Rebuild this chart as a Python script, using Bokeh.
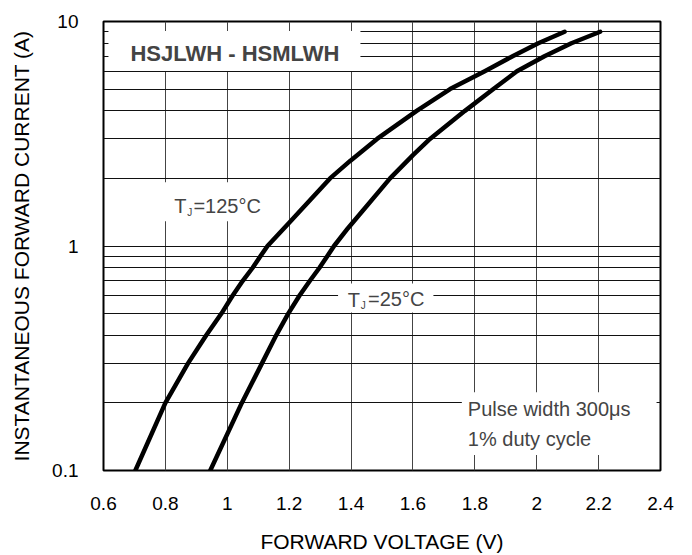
from bokeh.plotting import figure
from bokeh.models import Range1d, FixedTicker, NumeralTickFormatter, Label
from bokeh.embed import file_html
from bokeh.resources import INLINE

# Forward characteristic, Tj = 125 C
V_125 = [0.703, 0.80, 0.873, 0.932, 0.981, 1.017, 1.05, 1.082, 1.107, 1.13,
         1.20, 1.332, 1.398, 1.484, 1.612, 1.72, 1.832, 1.922, 2.005, 2.09]
I_125 = [0.1, 0.2, 0.3, 0.4, 0.5, 0.6, 0.7, 0.8, 0.9, 1.0,
         1.27, 2.0, 2.4, 3.0, 4.0, 5.0, 6.0, 7.0, 8.0, 9.0]

# Forward characteristic, Tj = 25 C
V_25 = [0.945, 1.047, 1.112, 1.158, 1.197, 1.233, 1.267, 1.298, 1.323, 1.345,
        1.39, 1.526, 1.60, 1.655, 1.768, 1.86, 1.936, 2.025, 2.112, 2.205]
I_25 = [0.1, 0.2, 0.3, 0.4, 0.5, 0.6, 0.7, 0.8, 0.9, 1.0,
        1.2, 2.0, 2.54, 3.0, 4.0, 5.0, 6.0, 7.0, 8.0, 9.0]

X_TICKS = [0.6, 0.8, 1.0, 1.2, 1.4, 1.6, 1.8, 2.0, 2.2, 2.4]
Y_TICKS = [0.1, 1, 10]
Y_GRID = [0.1, 0.2, 0.3, 0.4, 0.5, 0.6, 0.7, 0.8, 0.9,
          1, 2, 3, 4, 5, 6, 7, 8, 9, 10]

TITLE = "HSJLWH - HSMLWH"
X_LABEL = "FORWARD VOLTAGE (V)"
Y_LABEL = "INSTANTANEOUS FORWARD CURRENT (A)"
NOTE = "Pulse width 300\u03bcs\n1% duty cycle"

FONT = "Liberation Sans"

p = figure(width=690, height=555, y_axis_type="log",
           x_range=Range1d(0.6, 2.4), y_range=Range1d(0.1, 10),
           output_backend="svg", toolbar_location=None,
           min_border_left=103, min_border_right=30,
           min_border_top=21, min_border_bottom=84)

p.background_fill_color = "white"
p.border_fill_color = "white"
p.outline_line_color = "black"
p.outline_line_width = 2

p.xgrid.ticker = FixedTicker(ticks=X_TICKS)
p.ygrid.ticker = FixedTicker(ticks=Y_GRID)
p.xgrid.grid_line_color = "#444444"
p.ygrid.grid_line_color = "#111111"
p.xgrid.grid_line_width = 1
p.ygrid.grid_line_width = 1.2

p.xaxis.ticker = FixedTicker(ticks=X_TICKS)
p.yaxis.ticker = FixedTicker(ticks=Y_TICKS)
p.xaxis.formatter = NumeralTickFormatter(format="0.[0]")
p.yaxis.formatter = NumeralTickFormatter(format="0.[0]")

for ax in (p.xaxis, p.yaxis):
    ax.axis_line_color = None
    ax.major_tick_line_color = None
    ax.minor_tick_line_color = None
    ax.major_tick_out = 0
    ax.major_tick_in = 0
    ax.major_label_text_font = FONT
    ax.major_label_text_font_size = "19px"
    ax.major_label_text_color = "black"
    ax.axis_label_text_font = FONT
    ax.axis_label_text_font_size = "21px"
    ax.axis_label_text_font_style = "normal"
    ax.axis_label_text_color = "black"

p.xaxis.major_label_standoff = 26
p.yaxis.major_label_standoff = 25

p.yaxis.axis_label = Y_LABEL
p.yaxis.axis_label_standoff = 16
p.xaxis.axis_label = X_LABEL
p.xaxis.axis_label_standoff = 17

p.line(V_125, I_125, line_width=4.5, line_color="black",
       line_join="round", line_cap="round")
p.line(V_25, I_25, line_width=4.5, line_color="black",
       line_join="round", line_cap="round")


def boxed(x, y, text, size, pad, style="normal", **kw):
    l, r, t, b = pad
    p.add_layout(Label(x=x, y=y, text=text, text_font=FONT,
                       text_font_size=size, text_font_style=style,
                       text_baseline="middle", text_align="left",
                       background_fill_color="white",
                       padding=dict(left=l, right=r, top=t, bottom=b), **kw))


def plain(x, y, text, size, dx=0, dy=0):
    p.add_layout(Label(x=x, y=y, x_offset=dx, y_offset=dy, text=text,
                       text_font=FONT, text_font_size=size,
                       text_baseline="middle", text_align="left"))


# Title box (anchor = box left edge, box centre)
boxed(0.616, 7.39, TITLE, "22px", (22, 21, 10, 5), style="bold")

# Tj = 125 C
boxed(0.7774, 1.573, "=125\u00b0C", "20px", (35, 11, 13, 4))
plain(0.829, 1.505, "T", "20px")
plain(0.829, 1.505, "J", "10px", dx=13, dy=-6)

# Tj = 25 C
boxed(1.358, 0.5873, "=25\u00b0C", "20px", (30, 9, 5, 2))
plain(1.389, 0.577, "T", "20px")
plain(1.389, 0.577, "J", "10px", dx=13, dy=-6)

# Pulse note
boxed(1.758, 0.1618, NOTE, "20px", (6, 26, 6, 5), text_line_height=1.35)

open("out.html", "w").write(file_html(p, INLINE))
